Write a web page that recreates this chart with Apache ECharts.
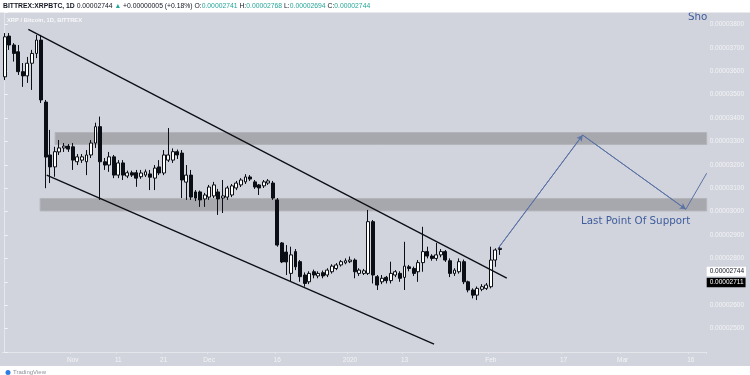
<!DOCTYPE html>
<html><head><meta charset="utf-8">
<script src="https://cdn.jsdelivr.net/npm/echarts@6/dist/echarts.min.js"></script>
<style>html,body{margin:0;padding:0;background:#fff}#c{width:750px;height:375px}</style>
</head><body><div id="c"></div>
<script>
// ---- data (prices in satoshi, 1e-8 BTC) ----
const startDate = '2019-10-17';
const dayCount = 155;
const opens  = [3576,3750,3712,3683,3598,3580,3634,3676,3733,3468,3242,3191,3255,3272,3280,3277,3213,3220,3213,3242,3293,3363,3213,3199,3234,3156,3208,3152,3166,3166,3149,3156,3161,3143,3191,3165,3220,3220,3256,3250,3126,3156,3084,3084,3054,3062,3067,3084,3058,3062,3071,3101,3114,3127,3148,3127,3114,3110,3122,3122,3050,2866,2827,2736,2829,2786,2729,2700,2743,2725,2739,2729,2743,2757,2772,2781,2786,2793,2736,2736,2736,2957,2722,2700,2719,2705,2729,2736,2719,2764,2757,2743,2782,2829,2810,2800,2815,2829,2790,2736,2743,2786,2700,2665,2643,2668,2672,2679,2793,2838];
const closes = [3747,3712,3676,3598,3580,3634,3676,3733,3477,3233,3191,3256,3272,3280,3267,3220,3234,3234,3242,3293,3363,3213,3199,3234,3156,3208,3156,3166,3156,3143,3165,3170,3147,3186,3165,3242,3242,3256,3242,3135,3156,3062,3058,3050,3071,3105,3114,3054,3067,3101,3110,3122,3135,3148,3139,3105,3101,3127,3131,3058,2857,2785,2785,2815,2764,2722,2693,2736,2729,2736,2725,2750,2767,2772,2786,2790,2793,2743,2750,2747,2957,2729,2686,2715,2705,2736,2743,2715,2767,2757,2736,2782,2829,2810,2800,2815,2829,2793,2736,2750,2786,2700,2665,2643,2672,2679,2686,2793,2836,2843];
const lows   = [3562,3691,3641,3584,3533,3550,3520,3656,3464,3100,3122,3149,3242,3255,3255,3178,3199,3208,3156,3229,3272,3050,3178,3170,3143,3143,3135,3143,3148,3106,3140,3148,3092,3092,3156,3156,3212,3208,3225,3058,3050,3050,3045,3020,3020,3050,3058,2986,2994,3050,3062,3092,3105,3118,3131,3097,3071,3101,3114,3050,2850,2780,2729,2700,2750,2700,2679,2690,2715,2715,2715,2720,2735,2750,2765,2775,2780,2715,2725,2729,2729,2693,2665,2690,2693,2693,2720,2700,2665,2745,2725,2700,2743,2800,2790,2790,2805,2785,2720,2725,2735,2690,2655,2629,2622,2660,2665,2672,2764,2815];
const highs  = [3763,3763,3720,3712,3635,3661,3691,3755,3755,3477,3349,3277,3306,3293,3289,3293,3246,3246,3263,3306,3380,3406,3229,3255,3242,3220,3220,3175,3175,3178,3178,3180,3178,3199,3220,3263,3357,3270,3265,3263,3199,3178,3092,3090,3080,3114,3127,3097,3135,3110,3118,3131,3143,3160,3156,3135,3118,3135,3139,3131,3058,2870,2857,2850,2840,2793,2740,2745,2752,2745,2748,2758,2775,2780,2793,2800,2808,2800,2758,2755,3007,2964,2729,2729,2725,2786,2750,2745,2871,2772,2765,2793,2935,2850,2818,2866,2840,2836,2800,2758,2800,2795,2705,2672,2680,2690,2695,2850,2843,2850];

const tickDates  = ['2019-11-01','2019-11-11','2019-11-21','2019-12-01','2019-12-16','2020-01-01','2020-01-13','2020-02-01','2020-02-17','2020-03-01','2020-03-16'];
const tickLabels = ['Nov','11','21','Dec','16','2020','13','Feb','17','Mar','16'];

// drawings (x in day-index units, y in satoshi)
const upperChannelK = [5.2, 110.5];
const upperChannelP = [3779, 2716];
const lowerChannelK = [9.25, 94.5];
const lowerChannelP = [3156, 2434];
const bandStartK  = [11.1, 7.8];
const bandTopP    = [3338, 3056];
const bandBottomP = [3287, 3003];
const pathK = [108.6, 127.2, 149.9, 154.5];
const pathP = [2843, 3327, 3010, 3164];
const priceMarkValues = [2744, 2697];
const priceMarkTexts  = ['0.00002744', '0.00002711'];

// ---- build ----
const dates = [];
const t0 = Date.parse(startDate + 'T00:00:00Z');
for (let i = 0; i < dayCount; i++) dates.push(new Date(t0 + i * 864e5).toISOString().slice(0, 10));
const candles = dates.map((d, i) => i < opens.length ? [opens[i], closes[i], lows[i], highs[i]] : '-');
const tickIdx = tickDates.map(d => dates.indexOf(d));
const kMax = dayCount - 0.5;

const chart = echarts.init(document.getElementById('c'), null, {renderer: 'canvas'});
const lab = '#f3f4f7';
chart.setOption({
  animation: false,
  backgroundColor: '#d1d4dc',
  grid: {left: 2.4, right: 43.3, top: 12.7, bottom: 23},
  xAxis: [{
    type: 'category', data: dates, boundaryGap: true,
    axisLine: {show: true, lineStyle: {color: '#e4e6ec', width: 1}},
    axisTick: {show: true, length: 2, interval: (i) => tickIdx.includes(i), lineStyle: {color: '#e4e6ec'}},
    axisLabel: {interval: (i) => tickIdx.includes(i), formatter: (v) => tickLabels[tickDates.indexOf(v)] || '',
      color: lab, fontSize: 6.5, margin: 4.5, fontFamily: 'Liberation Sans'},
    splitLine: {show: false}
  }, {
    type: 'value', min: -0.5, max: kMax, show: false
  }],
  yAxis: {
    type: 'value', position: 'right', min: 2400, max: 3850, interval: 100, scale: true,
    axisLine: {show: true, lineStyle: {color: '#e4e6ec', width: 1}},
    axisTick: {show: true, length: 3, lineStyle: {color: lab}},
    axisLabel: {color: lab, fontSize: 6.5, margin: 3, fontFamily: 'Liberation Sans',
      formatter: (v) => (v % 100 !== 0 || v === 2400 || v === 2700) ? '' : (v / 1e8).toFixed(8)},
    splitLine: {show: false}
  },
  series: [
    {
      type: 'line', xAxisIndex: 1, z: 1, data: [[-0.5, 2400]], showSymbol: false, lineStyle: {opacity: 0},
      markArea: {silent: true,
        itemStyle: {color: '#a6a8ad', borderColor: '#b3b5ba', borderWidth: 1},
        data: bandStartK.map((k, i) => [{coord: [k, bandTopP[i]]}, {coord: [kMax, bandBottomP[i]]}])}
    },
    {
      type: 'candlestick', xAxisIndex: 0, z: 3, data: candles, barWidth: 3.4,
      itemStyle: {color: '#ffffff', color0: '#0c0e15', borderColor: '#0c0e15', borderColor0: '#0c0e15', borderWidth: 1}
    },
    {
      type: 'line', xAxisIndex: 1, z: 4, showSymbol: false, silent: true,
      data: upperChannelK.map((k, i) => [k, upperChannelP[i]]),
      lineStyle: {color: '#0c0e15', width: 1.3}
    },
    {
      type: 'line', xAxisIndex: 1, z: 4, showSymbol: false, silent: true,
      data: lowerChannelK.map((k, i) => [k, lowerChannelP[i]]),
      lineStyle: {color: '#0c0e15', width: 1.3}
    },
    {
      type: 'line', xAxisIndex: 1, z: 5, showSymbol: false, silent: true,
      data: pathK.map((k, i) => [k, pathP[i]]),
      lineStyle: {color: '#5a72a6', width: 1},
      markLine: {silent: true, symbolSize: [5, 6],
        lineStyle: {color: '#5a72a6', width: 1, type: 'solid'}, label: {show: false},
        data: [0, 1].map(i => [{coord: [pathK[i], pathP[i]], symbol: 'none'}, {coord: [pathK[i + 1], pathP[i + 1]], symbol: 'arrow'}])}
    },
    {
      type: 'line', xAxisIndex: 1, z: 20, data: [[-0.5, 2400]], showSymbol: false, lineStyle: {opacity: 0}, silent: true,
      markLine: {silent: true, symbol: ['none', 'none'], z: 20,
        lineStyle: {color: 'rgba(0,0,0,0)', width: 1, type: 'solid'},
        data: priceMarkValues.map((v, i) => ({yAxis: v,
          label: {show: true, position: 'end', distance: 0, formatter: priceMarkTexts[i], fontSize: 6.5,
            fontFamily: 'Liberation Sans', padding: [1.5, 2, 1, 3],
            color: i === 0 ? '#131722' : '#ffffff', backgroundColor: i === 0 ? '#ffffff' : '#000000'}}))}
    }
  ],
  graphic: [
    {type: 'rect', shape: {x: 0, y: 0, width: 750, height: 12.5}, style: {fill: '#ffffff'}, z: 100},
    {type: 'rect', shape: {x: 0, y: 366, width: 750, height: 9}, style: {fill: '#ffffff'}, z: 100},
    {type: 'text', x: 3, y: 6.3, z: 101, style: {
      text: '{b|BITTREX:XRPBTC, 1D} {d|0.00002744} {g|▲} {d|+0.00000005 (+0.18%)} {d|O:}{g|0.00002741} {d|H:}{g|0.00002768} {d|L:}{g|0.00002694} {d|C:}{g|0.00002744}',
      verticalAlign: 'middle', fontFamily: 'Liberation Sans', fontSize: 6.8,
      rich: {b: {fontWeight: 'bold', fill: '#131722', fontSize: 6.8, fontFamily: 'Liberation Sans'},
             d: {fill: '#131722', fontSize: 6.8, fontFamily: 'Liberation Sans'},
             g: {fill: '#26a69a', fontSize: 6.8, fontFamily: 'Liberation Sans'}}}},
    {type: 'text', x: 7, y: 20.8, z: 50, style: {text: 'XRP / Bitcoin, 1D, BITTREX', fill: 'rgba(255,255,255,0.85)',
      fontSize: 5.8, fontWeight: 'bold', fontFamily: 'Liberation Sans', verticalAlign: 'middle'}},
    {type: 'text', x: 688, y: 17, z: 50, style: {text: 'Sho', fill: '#3e5c9c', fontSize: 10.3,
      fontFamily: 'DejaVu Sans', verticalAlign: 'middle'}},
    {type: 'text', x: 581, y: 221.5, z: 50, style: {text: 'Last Point Of Support', fill: '#3e5c9c', fontSize: 10.3,
      fontFamily: 'DejaVu Sans', verticalAlign: 'middle'}},
    {type: 'circle', shape: {cx: 8, cy: 372.5, r: 2.5}, style: {fill: '#2f7de1'}, z: 101},
    {type: 'text', x: 13, y: 372.5, z: 101, style: {text: 'TradingView', fill: '#8d909a', fontSize: 6,
      fontFamily: 'Liberation Sans', verticalAlign: 'middle'}}
  ]
});
</script></body></html>
